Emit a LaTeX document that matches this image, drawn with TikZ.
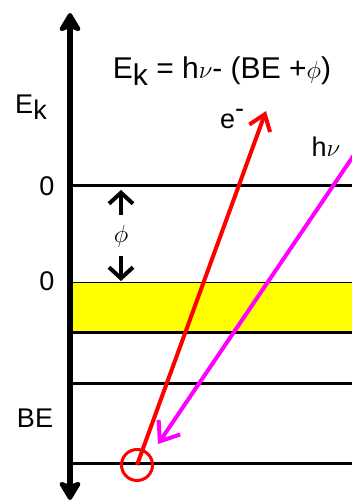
\documentclass[tikz,border=0pt]{standalone}
\usepackage{fontspec}
\setmainfont{Liberation Sans}
\usetikzlibrary{arrows.meta}

\definecolor{bandyellow}{RGB}{255,255,0}
\definecolor{photonpink}{RGB}{255,0,255}
\definecolor{electronred}{RGB}{255,0,0}

\newcommand{\Ek}{E\raisebox{-0.22em}{k}}

\begin{document}
\begin{tikzpicture}[x=1pt, y=-1pt,
        label style/.style={font=\fontsize{27}{31}\selectfont, inner sep=0pt},
        level/.style={line width=3pt},
        axis/.style={line width=6pt,
            {Stealth[length=22pt, width=26pt, inset=5pt, round]}-{Stealth[length=22pt, width=26pt, inset=5pt, round]}},
        gap arrow/.style={line width=4pt, -{Straight Barb[length=11pt, width=24pt]}},
        electron/.style={electronred, line width=4pt, -{Straight Barb[length=15pt, width=22pt]}},
        photon/.style={photonpink, line width=4pt, -{Straight Barb[length=17pt, width=26pt]}},
    ]
        \useasboundingbox (0,0) rectangle (352,502);

        % Energy levels
        \fill[bandyellow] (73,282) rectangle (352,332);
        \draw[line width=1pt] (70,282) -- (352,282);
        \draw[level] (70,186) -- (352,186);
        \draw[level] (70,332) -- (352,332);
        \draw[level] (70,383) -- (352,383);
        \draw[level] (70,463) -- (352,463);

        % Energy axis
        \coordinate (axTop) at (70,13);
        \coordinate (axBot) at (70,500);
        \draw[axis] (axBot) -- (axTop);

        % Labels
        \node[label style, font=\fontsize{30}{34}\selectfont] (equation) at (222,71) {\Ek{} = h$\nu$- (BE +$\phi$)};
        \node[label style] (ekLabel) at (31,107) {\Ek};
        \node[label style] (zeroVac) at (47,186) {0};
        \node[label style] (zeroFermi) at (47,281) {0};
        \node[label style] (beLabel) at (35,418) {BE};
        \node[label style] (eLabel) at (232,119) {e\raisebox{0.4em}{-}};
        \node[label style] (hnuLabel) at (326,147) {h$\nu$};
        \node[label style, font=\fontsize{31}{34}\selectfont] (phiLabel) at (121,236) {$\phi$};

        % Work function arrows
        \coordinate (phiUpFoot) at (121,215);
        \coordinate (phiUpTip) at (121,190);
        \coordinate (phiDownFoot) at (121,256);
        \coordinate (phiDownTip) at (121,281);
        \draw[gap arrow] (phiUpFoot) -- (phiUpTip);
        \draw[gap arrow] (phiDownFoot) -- (phiDownTip);

        % Core level electron
        \node[draw=electronred, circle, line width=3pt, minimum size=31pt, inner sep=0pt] (core) at (137,465) {};
        \coordinate (eTip) at (266,111);
        \draw[electron] (core.center) -- (eTip);

        % Incoming photon
        \coordinate (photonStart) at (356,152);
        \coordinate (photonTip) at (158,444);
        \draw[photon] (photonStart) -- (photonTip);
    \end{tikzpicture}
\end{document}
